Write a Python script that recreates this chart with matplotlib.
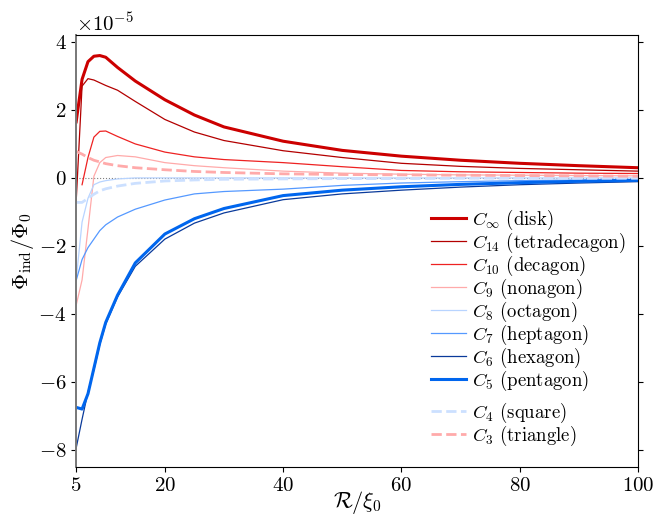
import numpy as np
import matplotlib
matplotlib.use("Agg")
import matplotlib.pyplot as plt

plt.rcParams['mathtext.fontset'] = 'cm'
plt.rcParams['font.family'] = 'serif'
plt.rcParams['font.serif'] = ['cmr10', 'DejaVu Serif']
plt.rcParams['axes.formatter.use_mathtext'] = True

# R / xi_0 sampling
R = np.array([5, 6, 7, 8, 9, 10, 12, 15, 20, 25, 30, 40, 50, 60, 70, 80, 90, 100])

# Phi_ind / Phi_0, in units of 1e-5
disk = [1.65, 2.9, 3.42, 3.58, 3.6, 3.55, 3.25, 2.85, 2.3, 1.85, 1.5, 1.08, 0.81, 0.64, 0.52, 0.43, 0.36, 0.30]
c14 = [-0.7, 2.7, 2.92, 2.88, 2.8, 2.72, 2.58, 2.25, 1.72, 1.35, 1.1, 0.8, 0.6, 0.43, 0.34, 0.28, 0.24, 0.20]
c10 = [np.nan, -0.2, 0.6, 1.2, 1.37, 1.38, 1.22, 1.0, 0.76, 0.62, 0.54, 0.45, 0.33, 0.22, 0.18, 0.16, 0.14, 0.13]
c9 = [-3.75, -3.0, -1.5, 0.05, 0.45, 0.6, 0.66, 0.62, 0.45, 0.36, 0.3, 0.2, 0.14, 0.11, 0.09, 0.08, 0.07, 0.06]
c8 = [-3.0, -1.3, -0.6, -0.2, -0.12, -0.08, -0.03, 0.0, 0.0, 0.0, 0.0, 0.0, 0.0, 0.0, 0.0, 0.0, 0.0, 0.0]
c7 = [-3.02, -2.4, -2.05, -1.8, -1.55, -1.38, -1.15, -0.92, -0.65, -0.47, -0.4, -0.33, -0.22, -0.15, -0.11, -0.08, -0.06, -0.05]
c6 = [-7.95, -7.1, -6.3, -5.65, -4.9, -4.3, -3.5, -2.6, -1.8, -1.33, -1.03, -0.64, -0.47, -0.36, -0.27, -0.2, -0.15, -0.11]
c5 = [-6.75, -6.8, -6.35, -5.6, -4.85, -4.25, -3.45, -2.5, -1.65, -1.2, -0.9, -0.52, -0.36, -0.26, -0.19, -0.14, -0.10, -0.07]
c4 = [-0.72, -0.72, -0.6, -0.48, -0.38, -0.32, -0.24, -0.16, -0.09, -0.06, -0.04, -0.03, -0.02, -0.02, -0.01, -0.01, -0.01, -0.01]
c3 = [0.78, 0.7, 0.6, 0.52, 0.47, 0.42, 0.36, 0.3, 0.24, 0.19, 0.16, 0.12, 0.1, 0.09, 0.08, 0.07, 0.06, 0.05]

scale = 1e-5

fig = plt.figure(figsize=(6.68, 5.17), dpi=100)
ax = fig.add_axes([0.114, 0.097, 0.841, 0.835])

ax.axhline(0, color='gray', ls=':', lw=0.8)

solid = [
    (disk, '#cc0000', 2.2, r'$C_\infty$ (disk)'),
    (c14, '#b30000', 0.9, r'$C_{14}$ (tetradecagon)'),
    (c10, '#ee2222', 0.9, r'$C_{10}$ (decagon)'),
    (c9, '#ffaaaa', 0.9, r'$C_9$ (nonagon)'),
    (c8, '#b8d4ff', 0.9, r'$C_8$ (octagon)'),
    (c7, '#5599ff', 0.9, r'$C_7$ (heptagon)'),
    (c6, '#0a3a9a', 0.9, r'$C_6$ (hexagon)'),
    (c5, '#0066ee', 2.2, r'$C_5$ (pentagon)'),
]
h1 = []
for vals, col, lw, lab in solid:
    ln, = ax.plot(R, np.array(vals) * scale, color=col, lw=lw, label=lab)
    h1.append(ln)

h2 = []
ln, = ax.plot(R, np.array(c4) * scale, color='#cce0ff', lw=2, ls='--', label=r'$C_4$ (square)')
h2.append(ln)
ln, = ax.plot(R, np.array(c3) * scale, color='#ffaaaa', lw=2, ls='--', label=r'$C_3$ (triangle)')
h2.append(ln)

ax.set_xlim(5, 100)
ax.set_ylim(-8.5e-5, 4.2e-5)
ax.set_xticks([5, 20, 40, 60, 80, 100])
ax.set_yticks(np.arange(-8, 5, 2) * scale)
ax.tick_params(labelsize=15, direction='out', right=True)
ax.yaxis.get_offset_text().set_fontsize(15)
ax.spines['left'].set_color('#777777')
ax.spines['left'].set_linewidth(1.4)

ax.set_xlabel(r'$\mathcal{R}/\xi_0$', fontsize=16, labelpad=-4)
ax.set_ylabel(r'$\Phi_{\rm ind}/\Phi_0$', fontsize=16, labelpad=2)

leg_kw = dict(loc='upper left', frameon=False, fontsize=13.5, handlelength=1.85,
              handletextpad=0.35, labelspacing=-0.06, borderaxespad=0)
leg1 = ax.legend(handles=h1, bbox_to_anchor=(0.618, 0.618), **leg_kw)
ax.add_artist(leg1)
ax.legend(handles=h2, bbox_to_anchor=(0.618, 0.171), **leg_kw)

fig.savefig('out.png', dpi=100)
